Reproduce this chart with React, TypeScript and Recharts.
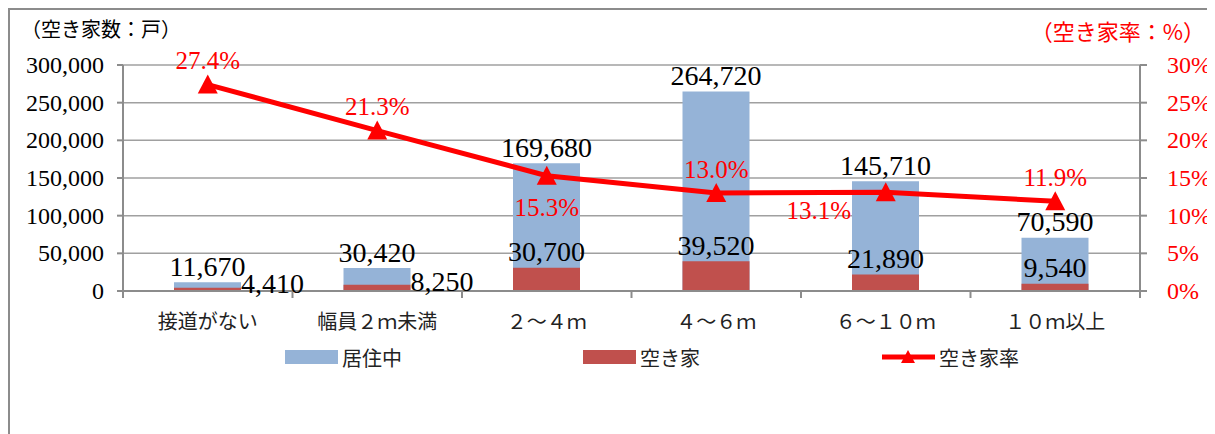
import { ComposedChart, Bar, Line, XAxis, YAxis, CartesianGrid, LabelList, Legend } from 'recharts';

const categories = ['接道がない', '幅員２ｍ未満', '２～４ｍ', '４～６ｍ', '６～１０ｍ', '１０ｍ以上'];
const occupied = [11670, 30420, 169680, 264720, 145710, 70590];
const vacant = [4410, 8250, 30700, 39520, 21890, 9540];
const vacancyRate = [27.4, 21.3, 15.3, 13.0, 13.1, 11.9];
const countTicks = [0, 50000, 100000, 150000, 200000, 250000, 300000];
const rateTicks = [0, 5, 10, 15, 20, 25, 30];

// where the labels sit, as in the original sheet
const vacantLabelSide = ['right', 'right', 'top', 'top', 'top', 'top'];
const rateLabelSide = ['above', 'above', 'below', 'above', 'lowerLeft', 'above'];

const data = categories.map((name, i) => ({
  name,
  occupied: occupied[i],
  vacant: vacant[i],
  rate: vacancyRate[i],
}));

const W = 1207;
const H = 426;
const PLOT_LEFT = 115;
const PLOT_RIGHT = 1132;
const BAND = (PLOT_RIGHT - PLOT_LEFT) / categories.length;

const SERIF = "'Liberation Serif', 'Noto Sans CJK JP', serif";
const JP = "'Noto Sans CJK JP', sans-serif";
const GRID = '#a0a0a0';
const AXIS = '#8c8c8c';
const BLUE = '#95b3d7';
const RED = '#c0504d';
const LINE = '#ff0000';

const fmt = (v: number) => v.toLocaleString('en-US');

function CategoryTick(props: any) {
  const { x, y, payload, index } = props;
  const last = index === categories.length - 1;
  return (
    <g>
      <line x1={x - BAND / 2} x2={x - BAND / 2} y1={y} y2={y + 7} stroke={AXIS} strokeWidth={2} />
      {last && <line x1={x + BAND / 2} x2={x + BAND / 2} y1={y} y2={y + 7} stroke={AXIS} strokeWidth={2} />}
      <text x={x} y={y + 29} textAnchor="middle" dominantBaseline="central" style={{ fontFamily: JP, fontSize: 20 }} fill="#222">
        {payload.value}
      </text>
    </g>
  );
}

function ValueTick(props: any) {
  const { x, y, payload, anchor, color, suffix } = props;
  const label = suffix ? `${payload.value}${suffix}` : fmt(payload.value);
  return (
    <text x={x} y={y} textAnchor={anchor} dominantBaseline="central" style={{ fontFamily: SERIF, fontSize: 24 }} fill={color}>
      {label}
    </text>
  );
}

function OccupiedLabel(props: any) {
  const { x, y, width, value } = props;
  return (
    <text x={x + width / 2} y={y - 16} textAnchor="middle" dominantBaseline="central" style={{ fontFamily: SERIF, fontSize: 28 }} fill="#000">
      {fmt(value)}
    </text>
  );
}

function VacantLabel(props: any) {
  const { x, y, width, height, value, index } = props;
  if (vacantLabelSide[index] === 'right') {
    return (
      <text x={x + width} y={y + height / 2 - 6} textAnchor="start" dominantBaseline="central" style={{ fontFamily: SERIF, fontSize: 28 }} fill="#000">
        {fmt(value)}
      </text>
    );
  }
  return (
    <text x={x + width / 2} y={y - 16} textAnchor="middle" dominantBaseline="central" style={{ fontFamily: SERIF, fontSize: 28 }} fill="#000">
      {fmt(value)}
    </text>
  );
}

function RateLabel(props: any) {
  const { x, y, value, index } = props;
  const side = rateLabelSide[index];
  let dx = 0;
  let dy = -24;
  if (side === 'below') dy = 32;
  if (side === 'lowerLeft') {
    dx = -67;
    dy = 18;
  }
  return (
    <text x={x + dx} y={y + dy} textAnchor="middle" dominantBaseline="central" style={{ fontFamily: SERIF, fontSize: 25 }} fill={LINE}>
      {value.toFixed(1)}%
    </text>
  );
}

function Triangle(props: any) {
  const { cx, cy } = props;
  if (cx == null || cy == null) return null;
  return <polygon points={`${cx},${cy - 10} ${cx + 10},${cy + 9} ${cx - 10},${cy + 9}`} fill={LINE} />;
}

function LegendBox(props: any) {
  const items = props.payload || [];
  const lefts = [277, 575, 874];
  return (
    <div style={{ position: 'relative', height: 30 }}>
      {items.map((it: any, i: number) => (
        <div key={it.value} style={{ position: 'absolute', left: lefts[i], top: 0, display: 'flex', alignItems: 'center', height: 30 }}>
          {it.type === 'line' ? (
            <svg width={53} height={16}>
              <line x1={0} x2={53} y1={8} y2={8} stroke={LINE} strokeWidth={5} />
              <polygon points="26,1 33,14 19,14" fill={LINE} />
            </svg>
          ) : (
            <div style={{ width: 53, height: 14, background: it.color }} />
          )}
          <span style={{ fontFamily: JP, fontSize: 20, color: '#222', marginLeft: 4 }}>{it.value}</span>
        </div>
      ))}
    </div>
  );
}

export default function App() {
  return (
    <div style={{ position: 'relative', width: W, height: H }}>
      <div style={{ position: 'absolute', left: 0, top: 0, right: -20, bottom: -20, borderTop: `2px solid ${AXIS}`, borderLeft: `2px solid ${AXIS}` }} />
      <div style={{ position: 'absolute', left: 13, top: 6, fontFamily: JP, fontSize: 20, color: '#000' }}>（空き家数：戸）</div>
      <div style={{ position: 'absolute', right: 10, top: 6, fontFamily: JP, fontSize: 22, color: LINE }}>（空き家率：%）</div>
      <ComposedChart
        width={W}
        height={H}
        data={data}
        margin={{ top: 57, right: 0, bottom: 103, left: 0 }}
        barSize={67}
        barGap={-67}
      >
        <CartesianGrid vertical={false} stroke={GRID} strokeWidth={1.5} yAxisId="count" />
        <XAxis
          dataKey="name"
          height={40}
          axisLine={{ stroke: AXIS, strokeWidth: 2 }}
          tickLine={false}
          tickSize={0}
          tickMargin={0}
          interval={0}
          tick={<CategoryTick />}
        />
        <YAxis
          yAxisId="count"
          orientation="left"
          width={115}
          domain={[0, 300000]}
          ticks={countTicks}
          axisLine={{ stroke: AXIS, strokeWidth: 2 }}
          tickLine={{ stroke: AXIS, strokeWidth: 2 }}
          tickSize={6}
          tickMargin={13}
          tick={<ValueTick anchor="end" color="#000" />}
        />
        <YAxis
          yAxisId="rate"
          orientation="right"
          width={75}
          domain={[0, 30]}
          ticks={rateTicks}
          axisLine={{ stroke: AXIS, strokeWidth: 2 }}
          tickLine={{ stroke: AXIS, strokeWidth: 2 }}
          tickSize={7}
          tickMargin={20}
          tick={<ValueTick anchor="start" color={LINE} suffix="%" />}
        />
        <Bar yAxisId="count" dataKey="occupied" name="居住中" fill={BLUE} isAnimationActive={false}>
          <LabelList dataKey="occupied" content={<OccupiedLabel />} />
        </Bar>
        <Bar yAxisId="count" dataKey="vacant" name="空き家" fill={RED} isAnimationActive={false}>
          <LabelList dataKey="vacant" content={<VacantLabel />} />
        </Bar>
        <Line
          yAxisId="rate"
          dataKey="rate"
          name="空き家率"
          type="linear"
          stroke={LINE}
          strokeWidth={5}
          dot={<Triangle />}
          activeDot={false}
          legendType="line"
          isAnimationActive={false}
        >
          <LabelList dataKey="rate" content={<RateLabel />} />
        </Line>
        <Legend
          verticalAlign="middle"
          align="center"
          content={<LegendBox />}
          wrapperStyle={{ top: 334, left: 0, width: W }}
        />
      </ComposedChart>
    </div>
  );
}
